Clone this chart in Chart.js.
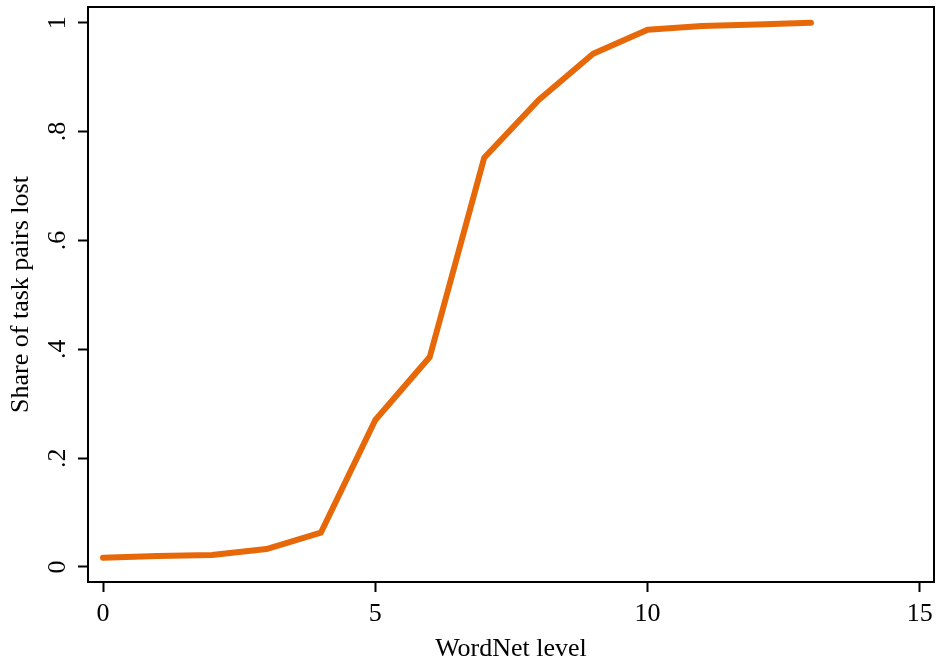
<!DOCTYPE html>
<html>
<head>
<meta charset="utf-8">
<script src="https://cdn.jsdelivr.net/npm/chart.js@4"></script>
<style>
  html, body { margin: 0; padding: 0; background: #fff; }
  #wrap { width: 936px; height: 667px; }
</style>
</head>
<body>
<div id="wrap"><canvas id="myChart"></canvas></div>
<script>
const levels = [0, 1, 2, 3, 4, 5, 6, 7, 8, 9, 10, 11, 12, 13];
const shareLost = [0.017, 0.020, 0.022, 0.033, 0.063, 0.270, 0.386, 0.752, 0.858, 0.943, 0.987, 0.994, 0.997, 1.0];
const xTicks = [0, 5, 10, 15];
const yTicks = [0, 0.2, 0.4, 0.6, 0.8, 1];

const serif = "'Liberation Serif', 'DejaVu Serif', serif";

const frameBox = {
  id: 'frameBox',
  afterDraw(chart) {
    const { ctx, chartArea: a } = chart;
    ctx.save();
    ctx.strokeStyle = '#000';
    ctx.lineWidth = 2;
    ctx.strokeRect(a.left, a.top, a.right - a.left, a.bottom - a.top);
    ctx.restore();
  }
};

new Chart(
  document.getElementById('myChart'),
  {
    type: 'line',
    data: {
      datasets: [
        {
          data: levels.map((x, i) => ({ x: x, y: shareLost[i] })),
          borderColor: '#e66808',
          borderWidth: 6,
          borderCapStyle: 'round',
          borderJoinStyle: 'round',
          pointRadius: 0,
          tension: 0,
          fill: false
        }
      ]
    },
    plugins: [frameBox],
    options: {
      responsive: true,
      maintainAspectRatio: false,
      animation: false,
      layout: { padding: { top: 7, right: 2, left: 0, bottom: 0 } },
      plugins: {
        legend: { display: false },
        tooltip: { enabled: false }
      },
      scales: {
        x: {
          type: 'linear',
          min: -0.276,
          max: 15.26,
          afterBuildTicks: s => { s.ticks = xTicks.map(v => ({ value: v })); },
          afterFit: s => { s.height = 85; s.paddingLeft = 0; s.paddingRight = 0; },
          grid: { drawOnChartArea: false, tickLength: 10, tickWidth: 2, tickColor: '#000' },
          border: { color: '#000', width: 2 },
          ticks: {
            color: '#000',
            font: { family: serif, size: 26 },
            padding: 7,
            maxRotation: 0,
            callback: v => String(v)
          },
          title: {
            display: true,
            text: 'WordNet level',
            color: '#000',
            font: { family: serif, size: 26 },
            padding: { top: 0, bottom: 2 }
          }
        },
        y: {
          type: 'linear',
          min: -0.0276,
          max: 1.029,
          afterBuildTicks: s => { s.ticks = yTicks.map(v => ({ value: v })); },
          afterFit: s => { s.width = 88; s.paddingTop = 0; s.paddingBottom = 0; },
          grid: { drawOnChartArea: false, tickLength: 10, tickWidth: 2, tickColor: '#000' },
          border: { color: '#000', width: 2 },
          ticks: {
            color: '#000',
            font: { family: serif, size: 26 },
            padding: 10,
            minRotation: 90,
            maxRotation: 90,
            crossAlign: 'center',
            callback: v => (v === 0 ? '0' : v === 1 ? '1' : String(Math.round(v * 10) / 10).replace(/^0/, ''))
          },
          title: {
            display: true,
            text: 'Share of task pairs lost',
            color: '#000',
            font: { family: serif, size: 26 },
            padding: { top: 6, bottom: 0 }
          }
        }
      }
    }
  }
);
</script>
</body>
</html>
